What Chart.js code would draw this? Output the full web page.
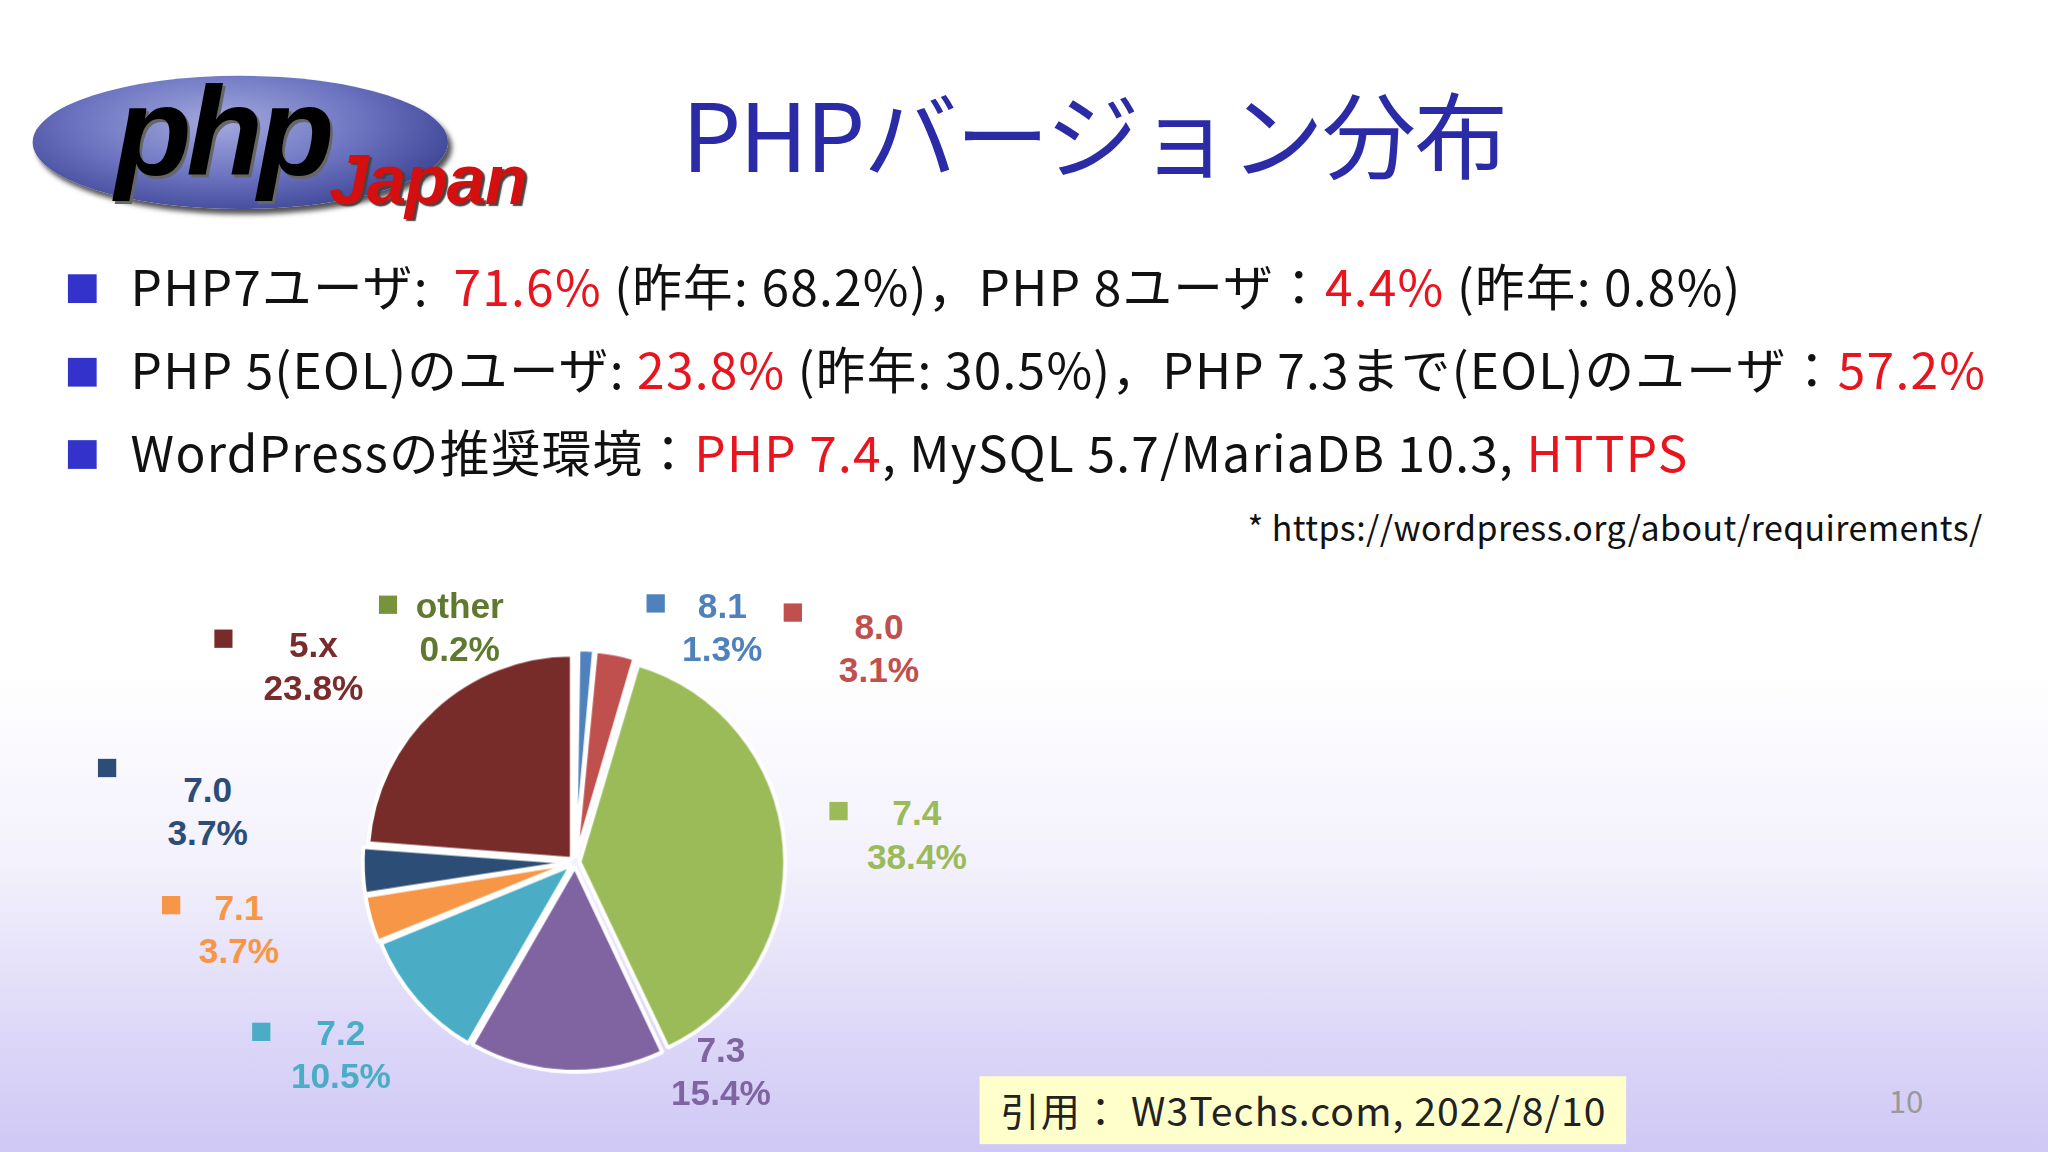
<!DOCTYPE html>
<html><head><meta charset="utf-8">
<script src="https://cdn.jsdelivr.net/npm/chart.js@4"></script>
<style>
html,body{margin:0;padding:0;width:2048px;height:1152px;overflow:hidden;background:#fff}
#slide{position:absolute;left:0;top:0;width:1568px;height:882px;transform-origin:0 0;transform:scale(1.30612);
 background:linear-gradient(to bottom,#fff 0%,#fff 58%,#f3f1fc 75%,#dcd7f8 90%,#cfc8f6 100%);font-family:"Noto Sans CJK JP","Noto Sans",sans-serif;color:#111}
.abs{position:absolute;white-space:nowrap}
#title{left:522px;top:48px;font-size:72px;color:#2b2ba8;letter-spacing:-1.5px}
.bullet{left:52px;font-size:38px;letter-spacing:0.95px}
.bullet i{display:inline-block;width:22px;height:22px;background:#3333cc;margin-right:26px;vertical-align:2px}
.r{color:#e8141e}
#note{right:50px;top:384px;font-size:26px;letter-spacing:0.3px}
#cite{left:750px;top:824px;width:495px;height:52px;background:#ffffcc;font-size:30px;line-height:50px;text-indent:16px;color:#222;letter-spacing:0.8px}
#page{left:1446px;top:824px;font-size:24px;color:#999}
.lab{position:absolute;font-family:"Liberation Sans",Arial,sans-serif;font-weight:bold;font-size:27px;text-align:center;line-height:33px;transform:translateX(-50%)}
.sq{position:absolute;width:14px;height:14px}
#logo{left:25px;top:58px;width:318px;height:102px;border-radius:50%;background:radial-gradient(ellipse at 45% 35%,#a3a9dd 0%,#6b73c0 45%,#3b4293 80%,#222a66 100%);box-shadow:3px 4px 4px #555}
#php{left:88px;top:46px;font:italic 900 96px "Liberation Sans",Arial,sans-serif;color:#000;letter-spacing:-4px;text-shadow:2px 2px 0 #666}
#jp{left:252px;top:106px;font:italic 900 54px "Liberation Sans",Arial,sans-serif;color:#d40f0f;text-shadow:2px 2px 1px #444;letter-spacing:-1px}
#cv{position:absolute;left:258px;top:478px;width:364px;height:364px}
</style></head><body>
<div id="slide">
<div id="logo" class="abs"></div>
<div id="php" class="abs">php</div>
<div id="jp" class="abs">Japan</div>
<div id="title" class="abs">PHPバージョン分布</div>
<div class="abs bullet" style="top:190px"><i></i>PHP7ユーザ:&nbsp; <span class="r">71.6%</span> (昨年: 68.2%)，PHP 8ユーザ：<span class="r">4.4%</span> (昨年: 0.8%)</div>
<div class="abs bullet" style="top:254px"><i></i>PHP 5(EOL)のユーザ: <span class="r">23.8%</span> (昨年: 30.5%)，PHP 7.3まで(EOL)のユーザ：<span class="r">57.2%</span></div>
<div class="abs bullet" style="top:317px"><i></i>WordPressの推奨環境：<span class="r">PHP 7.4</span>, MySQL 5.7/MariaDB 10.3, <span class="r">HTTPS</span></div>
<div id="note" class="abs">* https://wordpress.org/about/requirements/</div>
<div id="cv"><canvas id="pie"></canvas></div>
<div id="labels"></div>
<div id="cite" class="abs">引用： W3Techs.com, 2022/8/10</div>
<div id="page" class="abs">10</div>
</div>
<script>
// ===== DADOS =====
const versions = ['other', '8.1', '8.0', '7.4', '7.3', '7.2', '7.1', '7.0', '5.x'];
const shares = [0.2, 1.3, 3.1, 38.4, 15.4, 10.5, 3.7, 3.7, 23.8];
const sliceColors = ['#77933c', '#4f81bd', '#c0504d', '#9bbb59', '#8064a2', '#4bacc6', '#f79646', '#2c4d75', '#772c2a'];
const textColors = ['#5f7a2e', '#4f81bd', '#c0504d', '#9bbb59', '#8064a2', '#4bacc6', '#f79646', '#2c4d75', '#7a2b2b'];
// posição dos rótulos (texto e quadrado)
const labelPos = [[352,448,290,456],[553,448,495,455],[673,464,600,462],[702,607,635,614],[552,788,null,null],[261,775,193,783],[183,679,124,686],[159,589,75,581],[240,478,164,482]];

const box = document.getElementById('labels');
versions.forEach((v, i) => {
    const [tx, ty, sx, sy] = labelPos[i];
    box.innerHTML += `<div class="lab" style="left:${tx}px;top:${ty}px;color:${textColors[i]}">${v}<br>${shares[i]}%</div>`;
    if (sx !== null) box.innerHTML += `<div class="sq" style="left:${sx}px;top:${sy}px;background:${sliceColors[i]}"></div>`;
});

new Chart(document.getElementById('pie'), {
    type: 'pie',
    data: {
        labels: versions,
        datasets: [{ data: shares, backgroundColor: sliceColors, borderColor: '#fff', borderWidth: 3, offset: 14 }]
    },
    options: {
        responsive: true,
        maintainAspectRatio: false,
        animation: false,
        radius: '90%',
        devicePixelRatio: 1.30612,
        plugins: { legend: { display: false }, tooltip: { enabled: false } }
    }
});
</script>
</body></html>
